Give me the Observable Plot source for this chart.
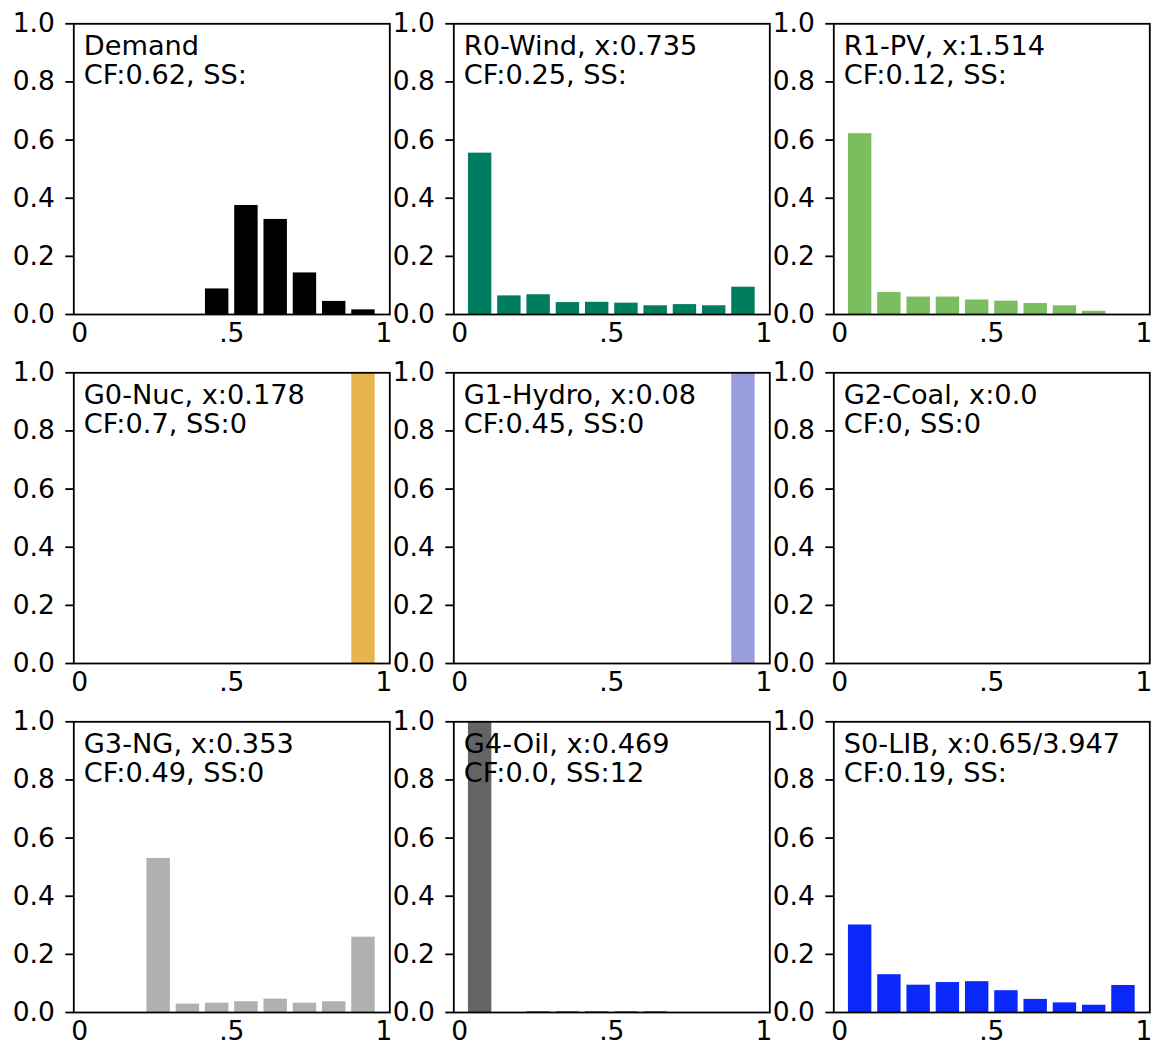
<!DOCTYPE html>
<html>
<head>
<meta charset="utf-8">
<script src="https://cdn.jsdelivr.net/npm/d3@7"></script>
<script src="https://cdn.jsdelivr.net/npm/@observablehq/plot@0.6"></script>
<style>
  html, body { margin: 0; padding: 0; background: #ffffff; overflow: hidden; }
  #chart { position: relative; width: 1158px; height: 1045px; }
  #chart svg { position: absolute; overflow: visible; }
</style>
</head>
<body>
<div id="chart"></div>
<script>
// ---- data ----
const titleLine1 = [
  "Demand", "R0-Wind, x:0.735", "R1-PV, x:1.514",
  "G0-Nuc, x:0.178", "G1-Hydro, x:0.08", "G2-Coal, x:0.0",
  "G3-NG, x:0.353", "G4-Oil, x:0.469", "S0-LIB, x:0.65/3.947"
];
const titleLine2 = [
  "CF:0.62, SS:", "CF:0.25, SS:", "CF:0.12, SS:",
  "CF:0.7, SS:0", "CF:0.45, SS:0", "CF:0, SS:0",
  "CF:0.49, SS:0", "CF:0.0, SS:12", "CF:0.19, SS:"
];
const barColors = [
  "#000000", "#007d5f", "#7cbd5f",
  "#e6b54d", "#999ddc", "#888888",
  "#b0b0b0", "#646464", "#0a28fa"
];
// share of hours in each of 10 bins (0-0.1, 0.1-0.2, ... 0.9-1.0)
const demandBins = [0, 0, 0, 0, 0.088, 0.375, 0.327, 0.143, 0.045, 0.016];
const windBins   = [0.555, 0.064, 0.068, 0.041, 0.042, 0.039, 0.030, 0.034, 0.030, 0.094];
const pvBins     = [0.622, 0.076, 0.060, 0.060, 0.050, 0.046, 0.038, 0.030, 0.011, 0];
const nucBins    = [0, 0, 0, 0, 0, 0, 0, 0, 0, 1.0];
const hydroBins  = [0, 0, 0, 0, 0, 0, 0, 0, 0, 1.0];
const coalBins   = [0, 0, 0, 0, 0, 0, 0, 0, 0, 0];
const ngBins     = [0, 0, 0.530, 0.029, 0.032, 0.037, 0.046, 0.032, 0.037, 0.259];
const oilBins    = [1.0, 0, 0.003, 0.003, 0.003, 0.003, 0.003, 0, 0, 0];
const libBins    = [0.301, 0.130, 0.094, 0.103, 0.106, 0.075, 0.045, 0.033, 0.025, 0.093];
const allBins = [demandBins, windBins, pvBins, nucBins, hydroBins, coalBins, ngBins, oilBins, libBins];

const yTicks = [0, 0.2, 0.4, 0.6, 0.8, 1.0];
const xTickValues = [-0.02, 0.5, 1.02];
const xTickLabels = ["0", ".5", "1"];

// ---- layout ----
const FONT = "DejaVu Sans";
const colStep = 380, rowStep = 349.2;
const xLabelMap = new Map(xTickValues.map((v, i) => [v, xTickLabels[i]]));
const container = document.getElementById("chart");

allBins.forEach((bins, k) => {
  const col = k % 3, row = Math.floor(k / 3);
  const rows = bins.map((v, i) => ({x1: i / 10 + 0.01, x2: (i + 1) / 10 - 0.01, y: v})).filter(d => d.y > 0);
  const chart = Plot.plot({
    width: 400,
    height: 360,
    marginLeft: 73.3,
    marginRight: 10.7,
    marginTop: 23.3,
    marginBottom: 46,
    style: {background: "transparent", fontFamily: FONT, fontSize: "26.5px", color: "#000", overflow: "visible"},
    x: {domain: [-0.04, 1.04]},
    y: {domain: [0, 1]},
    marks: [
      Plot.rectY(rows, {x1: "x1", x2: "x2", y1: 0, y2: "y", fill: barColors[k]}),
      Plot.axisY({ticks: yTicks, tickFormat: d3.format(".1f"), tickSize: 8, tickPadding: 11,
                  strokeWidth: 1.8, label: null, fontSize: 26.5, fill: "black", stroke: "black"}),
      Plot.axisX({ticks: xTickValues, tickFormat: d => xLabelMap.get(d), tickSize: 0, tickPadding: 9,
                  label: null, fontSize: 26.5, fill: "black"}),
      Plot.frame({stroke: "black", strokeWidth: 1.8}),
      Plot.text([titleLine1[k] + "\n" + titleLine2[k]], {
        text: d => d, frameAnchor: "top-left", textAnchor: "start", lineAnchor: "top",
        dx: 10, dy: 9.4, lineHeight: 1.103, fontSize: 27.2, fill: "black"
      })
    ]
  });
  chart.style.left = (col * colStep) + "px";
  chart.style.top = (row * rowStep) + "px";
  container.appendChild(chart);
});
</script>
</body>
</html>
